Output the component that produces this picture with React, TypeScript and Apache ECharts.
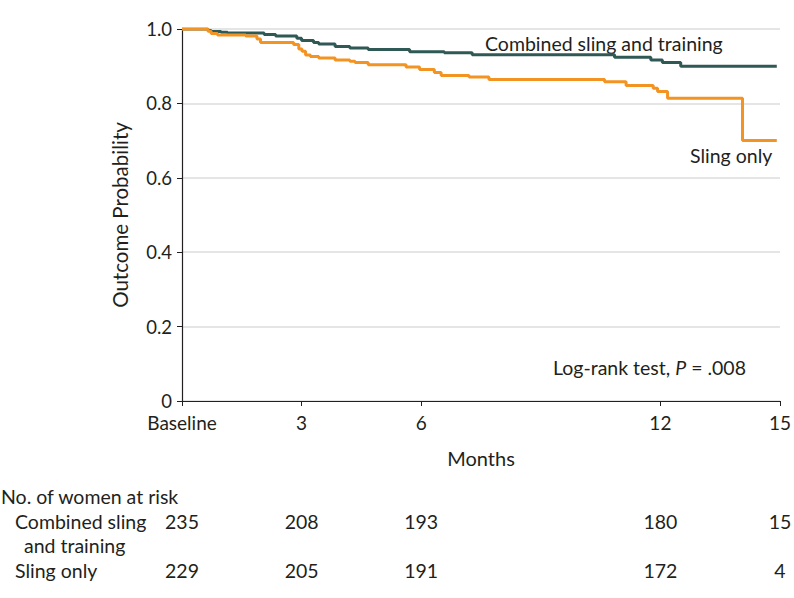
import React, { useEffect, useRef } from 'react';
import * as echarts from 'echarts';

// Kaplan-Meier steps (months, probability)
const combinedTimes = [0, 0.65, 0.73, 0.98, 1.14, 2.06, 2.35, 2.88, 3.0, 3.3, 3.43, 3.84, 4.21, 4.67, 5.71, 6.58, 7.28, 10.85, 11.76, 12.05, 12.51, 14.92];
const combinedSurvival = [1.0, 0.996, 0.993, 0.991, 0.989, 0.985, 0.981, 0.975, 0.969, 0.964, 0.96, 0.953, 0.949, 0.945, 0.939, 0.936, 0.931, 0.924, 0.917, 0.91, 0.9, 0.9];
const slingTimes = [0, 0.65, 0.73, 0.89, 1.6, 1.88, 1.97, 2.8, 2.93, 3.01, 3.1, 3.22, 3.43, 3.84, 4.21, 4.34, 4.67, 5.62, 5.96, 6.33, 6.5, 7.2, 7.7, 10.6, 11.14, 11.82, 11.93, 12.18, 14.06, 14.92];
const slingSurvival = [1.0, 0.994, 0.988, 0.984, 0.981, 0.973, 0.964, 0.958, 0.946, 0.94, 0.93, 0.926, 0.922, 0.917, 0.913, 0.91, 0.904, 0.898, 0.891, 0.883, 0.875, 0.871, 0.864, 0.858, 0.848, 0.841, 0.832, 0.814, 0.7, 0.7];

const xTickValues = [0, 3, 6, 12, 15];
const xTickLabels = ['Baseline', '3', '6', '12', '15'];

const riskTimes = [0, 3, 6, 12, 15];
const combinedAtRisk = [235, 208, 193, 180, 15];
const slingAtRisk = [229, 205, 191, 172, 4];

const seriesNames = ['Combined sling and training', 'Sling only'];
const riskTitle = 'No. of women at risk';
const riskRowLabels = ['Combined sling', 'and training', 'Sling only'];

const FONT = "Lato, 'Noto Sans', sans-serif";
const TEXT = '#231f20';
const TEAL = '#2f5955';
const ORANGE = '#f39322';

export default function App() {
  const ref = useRef<HTMLDivElement>(null);
  useEffect(() => {
    if (!ref.current) return;
    const chart = echarts.init(ref.current, undefined, { renderer: 'svg' });
    const combinedData = combinedTimes.map((t, i) => [t, combinedSurvival[i]]);
    const slingData = slingTimes.map((t, i) => [t, slingSurvival[i]]);
    chart.setOption({
      animation: false,
      textStyle: { fontFamily: FONT },
      grid: { left: 182, right: 9, top: 29, bottom: 197, containLabel: false },
      xAxis: {
        type: 'value',
        min: 0,
        max: 15,
        name: 'Months',
        nameLocation: 'middle',
        nameGap: 47,
        nameTextStyle: { fontFamily: FONT, fontSize: 20, color: TEXT },
        axisLine: { show: true, lineStyle: { color: TEXT, width: 1.2 } },
        axisTick: { show: true, length: 5, lineStyle: { color: TEXT }, customValues: xTickValues },
        axisLabel: {
          fontFamily: FONT,
          fontSize: 19,
          lineHeight: 19,
          color: TEXT,
          margin: 12,
          customValues: xTickValues,
          formatter: (v: number) => xTickLabels[xTickValues.indexOf(v)] ?? '',
        },
        splitLine: { show: false },
      },
      yAxis: {
        type: 'value',
        min: 0,
        max: 1,
        interval: 0.2,
        name: 'Outcome Probability',
        nameLocation: 'middle',
        nameGap: 52,
        nameTextStyle: { fontFamily: FONT, fontSize: 20.5, color: TEXT },
        axisLine: { show: true, lineStyle: { color: TEXT, width: 1.2 } },
        axisTick: { show: true, length: 5, lineStyle: { color: TEXT } },
        axisLabel: {
          fontFamily: FONT,
          fontSize: 18.5,
          lineHeight: 15,
          color: TEXT,
          margin: 10,
          formatter: (v: number) => (v === 0 ? '0' : v.toFixed(1)),
        },
        splitLine: { show: true, lineStyle: { color: '#dcdcdc', width: 1.5 } },
      },
      series: [
        {
          name: seriesNames[0],
          type: 'line',
          step: 'end',
          data: combinedData,
          showSymbol: false,
          lineStyle: { color: TEAL, width: 3 },
          itemStyle: { color: TEAL },
        },
        {
          name: seriesNames[1],
          type: 'line',
          step: 'end',
          data: slingData,
          showSymbol: false,
          lineStyle: { color: ORANGE, width: 3 },
          itemStyle: { color: ORANGE },
        },
      ],
    });

    const px = (t: number) => chart.convertToPixel({ xAxisIndex: 0 }, t) as number;
    const tf = `19.5px ${FONT}`;
    const graphics: any[] = [
      { type: 'text', x: 485, y: 43, style: { text: seriesNames[0], font: tf, fill: TEXT, verticalAlign: 'middle' } },
      { type: 'text', x: 690, y: 155, style: { text: seriesNames[1], font: tf, fill: TEXT, verticalAlign: 'middle' } },
      {
        type: 'text',
        x: 553,
        y: 367,
        style: {
          text: '{n|Log-rank test, }{i|P}{n| = .008}',
          verticalAlign: 'middle',
          rich: {
            n: { fontFamily: FONT, fontSize: 19.5, fill: TEXT, color: TEXT },
            i: { fontFamily: FONT, fontSize: 19.5, fontStyle: 'italic', fill: TEXT, color: TEXT },
          },
        },
      },
      { type: 'text', x: 1, y: 496, style: { text: riskTitle, font: tf, fill: TEXT, verticalAlign: 'middle' } },
      { type: 'text', x: 15, y: 521, style: { text: riskRowLabels[0], font: tf, fill: TEXT, verticalAlign: 'middle' } },
      { type: 'text', x: 24, y: 545, style: { text: riskRowLabels[1], font: tf, fill: TEXT, verticalAlign: 'middle' } },
      { type: 'text', x: 15, y: 570, style: { text: riskRowLabels[2], font: tf, fill: TEXT, verticalAlign: 'middle' } },
    ];
    riskTimes.forEach((t, i) => {
      graphics.push({ type: 'text', x: px(t), y: 521, style: { text: String(combinedAtRisk[i]), font: tf, fill: TEXT, align: 'center', verticalAlign: 'middle' } });
      graphics.push({ type: 'text', x: px(t), y: 570, style: { text: String(slingAtRisk[i]), font: tf, fill: TEXT, align: 'center', verticalAlign: 'middle' } });
    });
    chart.setOption({ graphic: graphics });

    return () => chart.dispose();
  }, []);
  return <div ref={ref} style={{ position: 'fixed', left: 0, top: 0, width: 794, height: 598, background: '#fff' }} />;
}
